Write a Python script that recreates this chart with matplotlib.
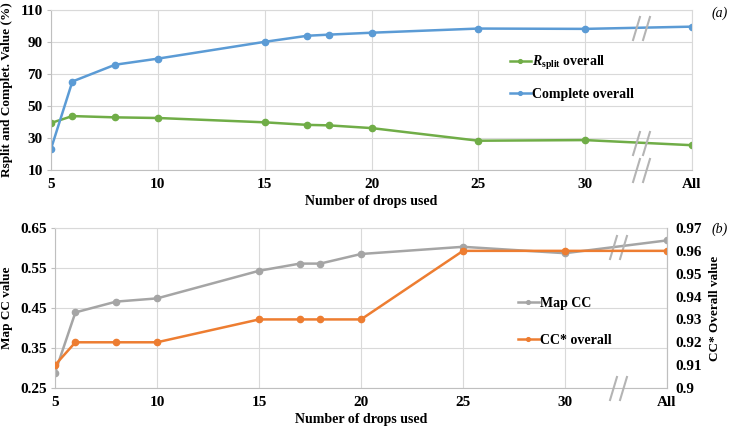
import numpy as np
import matplotlib
matplotlib.use('Agg')
import matplotlib.pyplot as plt
from matplotlib.path import Path

plt.rcParams['font.family'] = 'Liberation Serif'
plt.rcParams['font.weight'] = 'bold'
plt.rcParams['mathtext.fontset'] = 'custom'
plt.rcParams['mathtext.rm'] = 'Liberation Serif'
plt.rcParams['mathtext.it'] = 'Liberation Serif:italic:bold'
plt.rcParams['mathtext.bf'] = 'Liberation Serif:bold'

# ----- data -----
drops = [5, 6, 8, 10, 15, 17, 18, 20, 25, 30, 35]          # 35 stands for "All"
xtick_pos = [5, 10, 15, 20, 25, 30, 35]
xtick_lab = ['5', '10', '15', '20', '25', '30', 'All']

rsplit = [39.4, 43.7, 42.9, 42.5, 39.8, 38.2, 37.9, 36.2, 28.3, 28.7, 25.5]
complete = [23.2, 65.3, 75.8, 79.6, 90.1, 93.9, 94.6, 95.8, 98.4, 98.2, 99.6]

map_cc = [0.288, 0.439, 0.466, 0.474, 0.543, 0.561, 0.561, 0.585, 0.603, 0.587, 0.619]
cc_star = [0.91, 0.92, 0.92, 0.92, 0.93, 0.93, 0.93, 0.93, 0.96, 0.96, 0.96]

top_yticks = [10, 30, 50, 70, 90, 110]
left_yticks = [0.25, 0.35, 0.45, 0.55, 0.65]
right_yticks = [0.90, 0.91, 0.92, 0.93, 0.94, 0.95, 0.96, 0.97]
right_ylab = ['0.9', '0.91', '0.92', '0.93', '0.94', '0.95', '0.96', '0.97']

GREEN, BLUE, GRAY, ORANGE = '#70ad47', '#5b9bd5', '#a5a5a5', '#ed7d31'
GRID, AXC = '#d9d9d9', '#bfbfbf'
W, H = 733, 434
FS = 10
TFS = 11

fig = plt.figure(figsize=(W / 100, H / 100), dpi=100)

# slanted double-slash "axis break" marker
brk = Path([(-0.7, -1), (-0.1, 1), (0.1, -1), (0.7, 1)],
           [Path.MOVETO, Path.LINETO, Path.MOVETO, Path.LINETO])


def style(ax, yticks):
    ax.set_xlim(5, 35)
    ax.set_xticks(xtick_pos)
    ax.set_xticklabels(xtick_lab)
    ax.set_yticks(yticks)
    ax.set_ylim(yticks[0], yticks[-1])
    ax.grid(True, color=GRID, lw=0.8)
    ax.set_axisbelow(True)
    for s in ['top', 'right']:
        ax.spines[s].set_color(GRID)
    for s in ['left', 'bottom']:
        ax.spines[s].set_color(AXC)
    ax.tick_params(axis='x', length=0, pad=6, labelsize=TFS)
    ax.tick_params(axis='y', length=3, color=AXC, pad=3, labelsize=TFS)
    ax.set_xlabel('Number of drops used', fontsize=FS, fontweight='bold', labelpad=3)


def px(x0, y0, x1, y1):
    return [x0 / W, 1 - y1 / H, (x1 - x0) / W, (y1 - y0) / H]


def mark_break(ax, y):
    ax.plot([32.6], [y], ls='none', marker=brk, ms=18, mew=1.5, color='#b4b4b4',
            clip_on=False, zorder=5)


# ----- (a) -----
ax1 = fig.add_axes(px(51, 10, 692, 170))
ax1.plot(drops, rsplit, '-o', color=GREEN, lw=1.8, ms=4.5, label=r'$\mathit{R}_{\mathrm{split}}$ overall')
ax1.plot(drops, complete, '-o', color=BLUE, lw=1.8, ms=4.5, label='Complete overall')
style(ax1, top_yticks)
ax1.set_ylabel('Rsplit and Complet. Value (%)', fontsize=9.5, fontweight='bold', labelpad=5)
for ser in (rsplit, complete):
    mark_break(ax1, np.interp(32.6, drops, ser))
mark_break(ax1, 10)
ax1.legend(loc='center left', bbox_to_anchor=(510 / W, 1 - 77.5 / H), bbox_transform=fig.transFigure,
           frameon=False, fontsize=FS, handlelength=1.5, handletextpad=0.1, labelspacing=1.15,
           borderpad=0, borderaxespad=0, markerscale=0.6)
fig.text(712 / W, 1 - 13 / H, '(a)', fontsize=10, style='italic', fontweight='normal', va='center')

# ----- (b) -----
ax2 = fig.add_axes(px(55, 228, 667, 388))
l1, = ax2.plot(drops, map_cc, '-o', color=GRAY, lw=1.8, ms=4.5, label='Map CC')
style(ax2, left_yticks)
ax2.set_yticklabels([f'{v:.2f}' for v in left_yticks])
ax2.set_ylabel('Map CC value', fontsize=9.5, fontweight='bold', labelpad=5)
ax3 = ax2.twinx()
l2, = ax3.plot(drops, cc_star, '-o', color=ORANGE, lw=1.8, ms=4.5, label='CC* overall')
ax3.set_ylim(0.9, 0.97)
ax3.set_yticks(right_yticks)
ax3.set_yticklabels(right_ylab)
ax3.tick_params(axis='y', length=0, pad=6, labelsize=TFS)
for s in ['top', 'left', 'bottom']:
    ax3.spines[s].set_visible(False)
ax3.spines['right'].set_color(AXC)
ax3.set_ylabel('CC* Overall value', fontsize=9.5, fontweight='bold', labelpad=5)
mark_break(ax2, np.interp(32.6, drops, map_cc))
mark_break(ax2, 0.25)
ax2.legend(handles=[l1, l2], loc='center left', bbox_to_anchor=(518 / W, 1 - 322 / H),
           bbox_transform=fig.transFigure, frameon=False, fontsize=FS, handlelength=1.5,
           handletextpad=0.1, labelspacing=1.75, borderpad=0, borderaxespad=0, markerscale=0.6)
fig.text(712 / W, 1 - 229 / H, '(b)', fontsize=10, style='italic', fontweight='normal', va='center')

fig.savefig('out.png', dpi=100)
